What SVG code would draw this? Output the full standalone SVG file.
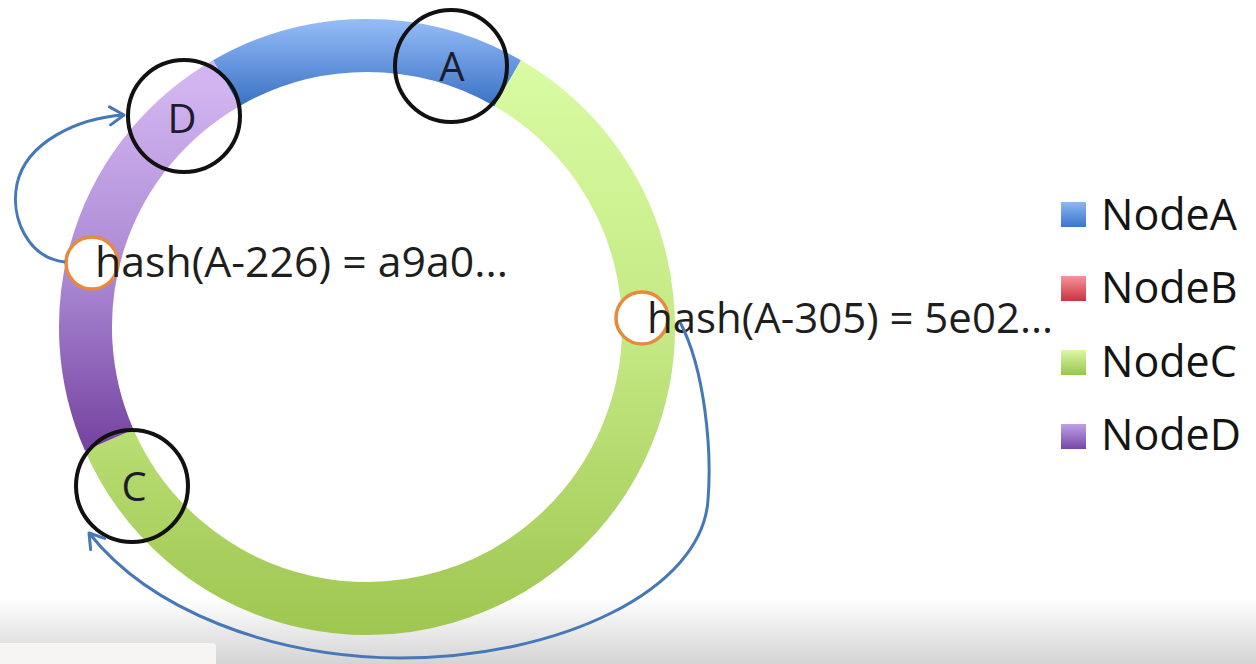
<svg xmlns="http://www.w3.org/2000/svg" width="1256" height="664" viewBox="0 0 1256 664">
  <style>
    .seg { fill: none; stroke-width: 53; }
    .node { fill: none; stroke: #111; stroke-width: 4; }
    .pt { fill: #fff; stroke: #e88a3c; stroke-width: 3.5; }
    .lbl { font-family: "Open Sans", "Liberation Sans", sans-serif; font-size: 40px; fill: #1c1c2c; text-anchor: middle; }
    .hash { font-family: "Open Sans", "Liberation Sans", sans-serif; font-size: 42px; fill: #1e1e1e; }
    .leg { font-family: "Open Sans", "Liberation Sans", sans-serif; font-size: 43px; fill: #141414; }
    .conn { fill: none; stroke: #4677b6; stroke-width: 3; marker-end: url(#arrow); }
  </style>
  <defs>
    <linearGradient id="bg" x1="0" y1="598" x2="0" y2="664" gradientUnits="userSpaceOnUse">
      <stop offset="0" stop-color="#ffffff"/>
      <stop offset="1" stop-color="#d4d4d4"/>
    </linearGradient>
    <linearGradient id="gBlue" x1="0" y1="22" x2="0" y2="105" gradientUnits="userSpaceOnUse">
      <stop offset="0" stop-color="#92bbf6"/>
      <stop offset="1" stop-color="#3b72c6"/>
    </linearGradient>
    <linearGradient id="gGreen" x1="0" y1="50" x2="0" y2="635" gradientUnits="userSpaceOnUse">
      <stop offset="0" stop-color="#dafca4"/>
      <stop offset="0.5" stop-color="#c4e883"/>
      <stop offset="1" stop-color="#9ec650"/>
    </linearGradient>
    <linearGradient id="gPurple" x1="0" y1="90" x2="0" y2="440" gradientUnits="userSpaceOnUse">
      <stop offset="0" stop-color="#d2b4f0"/>
      <stop offset="0.55" stop-color="#a886d2"/>
      <stop offset="1" stop-color="#7846a2"/>
    </linearGradient>
    <linearGradient id="sqA" x1="0" y1="0" x2="0" y2="1">
      <stop offset="0" stop-color="#8db8f2"/>
      <stop offset="1" stop-color="#3a74cc"/>
    </linearGradient>
    <linearGradient id="sqB" x1="0" y1="0" x2="0" y2="1">
      <stop offset="0" stop-color="#f4949a"/>
      <stop offset="1" stop-color="#c93442"/>
    </linearGradient>
    <linearGradient id="sqC" x1="0" y1="0" x2="0" y2="1">
      <stop offset="0" stop-color="#dcf8a6"/>
      <stop offset="1" stop-color="#96c64a"/>
    </linearGradient>
    <linearGradient id="sqD" x1="0" y1="0" x2="0" y2="1">
      <stop offset="0" stop-color="#bea0e6"/>
      <stop offset="1" stop-color="#7646a6"/>
    </linearGradient>
    <marker id="arrow" markerUnits="userSpaceOnUse" markerWidth="20" markerHeight="22" viewBox="0 0 20 22" refX="16" refY="11" orient="auto">
      <path d="M2 2 L16 11 L2 20" fill="none" stroke="#4677b6" stroke-width="3" stroke-linecap="round" stroke-linejoin="round"/>
    </marker>
  </defs>

  <rect x="0" y="0" width="1256" height="664" fill="#ffffff"/>
  <rect x="0" y="598" width="1256" height="66" fill="url(#bg)"/>
  <path d="M0 643 H212 Q216 643 216 647 V664 H0 Z" fill="#f6f5f3"/>

  <g id="ring">
    <path class="seg" stroke="url(#gBlue)" d="M226.25 83.2 A281.5 281.5 0 0 1 507.75 83.2"/>
    <path class="seg" stroke="url(#gGreen)" d="M507.75 83.2 A281.5 281.5 0 1 1 109.2 440.1"/>
    <path class="seg" stroke="url(#gPurple)" d="M109.2 440.1 A281.5 281.5 0 0 1 226.25 83.2"/>
  </g>

  <g id="node-A">
    <circle class="node" cx="451" cy="66" r="56"/>
    <text class="lbl" x="452" y="81">A</text>
  </g>
  <g id="node-D">
    <circle class="node" cx="184" cy="116" r="56"/>
    <text class="lbl" x="182" y="133">D</text>
  </g>
  <g id="node-C">
    <circle class="node" cx="132" cy="486" r="56"/>
    <text class="lbl" x="134" y="501">C</text>
  </g>

  <g id="key-226">
    <circle class="pt" cx="92" cy="263" r="26"/>
    <text class="hash" x="95" y="277" textLength="413" lengthAdjust="spacingAndGlyphs">hash(A-226) = a9a0...</text>
  </g>
  <g id="key-305">
    <circle class="pt" cx="642" cy="318" r="26"/>
    <text class="hash" x="647" y="333" textLength="406" lengthAdjust="spacingAndGlyphs">hash(A-305) = 5e02...</text>
  </g>

  <g id="legend">
    <g id="legend-A">
      <rect x="1061" y="202" width="25" height="25" fill="url(#sqA)"/>
      <text class="leg" x="1101" y="230">NodeA</text>
    </g>
    <g id="legend-B">
      <rect x="1061" y="276" width="25" height="25" fill="url(#sqB)"/>
      <text class="leg" x="1101" y="303">NodeB</text>
    </g>
    <g id="legend-C">
      <rect x="1061" y="350" width="25" height="25" fill="url(#sqC)"/>
      <text class="leg" x="1101" y="377">NodeC</text>
    </g>
    <g id="legend-D">
      <rect x="1061" y="424" width="25" height="25" fill="url(#sqD)"/>
      <text class="leg" x="1101" y="450">NodeD</text>
    </g>
  </g>

  <g id="connectors">
    <path class="conn" d="M65 262 C28 258 10 218 17 184 C26 142 78 118 124 115"/>
    <path class="conn" d="M680 322 C705 370 712 450 708 500 C702 590 560 658 400 658 C270 657 150 610 89 533"/>
  </g>
</svg>
